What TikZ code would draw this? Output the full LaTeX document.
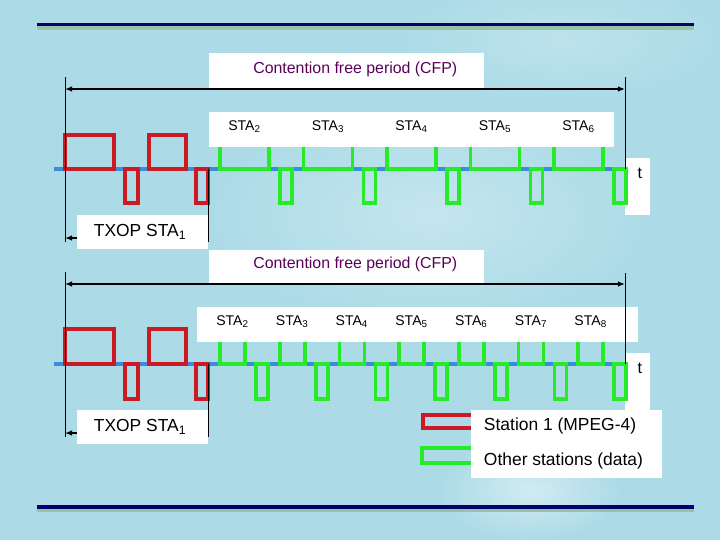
\documentclass[tikz,border=0pt]{standalone}
\usepackage{fontspec}
\setmainfont{Liberation Sans}
\usetikzlibrary{arrows.meta,positioning,calc}
\definecolor{SlideBlue}{RGB}{172,219,231}
\definecolor{BarNavy}{RGB}{0,0,110}
\definecolor{BarGreen}{RGB}{150,196,160}
\definecolor{LineBlue}{RGB}{60,140,220}
\definecolor{StaRed}{RGB}{205,25,35}
\definecolor{StaGreen}{RGB}{40,235,40}
\definecolor{CfpPurple}{RGB}{90,0,90}
\tikzset{
  whitebox/.style={fill=white,inner sep=0pt},
  timeline/.style={LineBlue,line width=2.4pt},
  redsig/.style={draw=StaRed,line width=2.7pt},
  greensig/.style={draw=StaGreen,line width=2.7pt},
  dimline/.style={black,line width=0.7pt},
  dimarrow/.style={black,line width=1.4pt,-{Latex[length=5pt,width=4pt]}},
  cfptext/.style={font=\fontsize{11.3}{13}\selectfont,text=CfpPurple},
  stalabel/.style={font=\fontsize{10}{12}\selectfont},
  timelabel/.style={font=\fontsize{11.5}{13}\selectfont},
  bigtext/.style={font=\fontsize{12.4}{14}\selectfont}
}

\begin{document}
\begin{tikzpicture}[x=0.025cm,y=-0.025cm]
  \fill[SlideBlue] (0,0) rectangle (720,540);
  \useasboundingbox (0,0) rectangle (720,540);
  \shade[inner color=SlideBlue!70!white,outer color=SlideBlue] (430,215) ellipse (220 and 110);
  \shade[inner color=SlideBlue!55!white,outer color=SlideBlue] (530,490) ellipse (90 and 50);
  \shade[inner color=SlideBlue!80!white,outer color=SlideBlue] (560,40) ellipse (160 and 60);
  \fill[BarNavy] (37,22.5) rectangle (694,26);
  \fill[BarGreen] (37,26) rectangle (694,30);
  \fill[BarNavy] (37,505) rectangle (694,508.5);
  \fill[BarGreen] (37,508.5) rectangle (694,512);

  % upper diagram
  \node[whitebox,minimum width=6.875cm,minimum height=0.875cm] (cfpA) at (346.5,70.5) {};
  \node[cfptext] (cfpAtext) at ([xshift=0.22cm,yshift=0.03cm]cfpA.center) {Contention free period (CFP)};
  \node[whitebox,minimum width=10.125cm,minimum height=0.875cm] (staboxA) at (411.5,129.5) {};
  \node[whitebox,minimum width=0.625cm,minimum height=1.425cm] (tboxA) at (637.5,186.5) {};
  \node[timelabel] (tA) at ([xshift=0.06cm,yshift=-0.38cm]tboxA.north) {t};
  \node[whitebox,minimum width=3.275cm,minimum height=0.85cm] (txopA) at (142.5,232) {};
  \node[bigtext] (txopAtext) at ([xshift=-0.06cm]txopA.center) {TXOP STA\textsubscript{1}};

  \draw[timeline] (54,169) -- (625,169);
  \draw[redsig] (65,135) rectangle (114,169);
  \draw[redsig] (149,135) rectangle (186,169);
  \draw[redsig] (125,169) rectangle (138,203);
  \draw[redsig] (196,169) rectangle (208,203);
  \foreach \i in {0,...,4}{
    \pgfmathsetmacro\xa{220+83.5*\i}
    \pgfmathsetmacro\xb{280+83.5*\i}
    \pgfmathtruncatemacro\n{\i+2}
    \draw[greensig] (\xa,147) -- (\xa,169) -- ({\xa+49},169) -- ({\xa+49},147);
    \draw[greensig] (\xb,169) rectangle ({\xb+12},203);
    \node[stalabel] (staA\n) at ({\xa+24.5},127) {STA\textsubscript{\n}};
  }

  \coordinate (cfpAL) at (65,89);
  \coordinate (cfpAR) at (625,89);
  \coordinate (topAL) at (65,77);
  \coordinate (botAL) at (65,242);
  \coordinate (topAR) at (625,77);
  \coordinate (botAR) at (625,169);
  \coordinate (topAT) at (208,169);
  \coordinate (botAT) at (208,242);
  \coordinate (txAL) at (65,238);
  \draw[dimline] (topAL) -- (botAL);
  \draw[dimline] (topAR) -- (botAR);
  \draw[dimline] (topAT) -- (botAT);
  \draw[dimarrow,{Latex[length=5pt,width=4pt]}-{Latex[length=5pt,width=4pt]}] (cfpAL) -- (cfpAR);
  \draw[dimarrow] (txopA.west |- txAL) -- (txAL);

  % lower diagram
  \node[whitebox,minimum width=6.875cm,minimum height=0.825cm] (cfpB) at (346.5,266.5) {};
  \node[cfptext] (cfpBtext) at ([xshift=0.22cm,yshift=0.06cm]cfpB.center) {Contention free period (CFP)};
  \node[whitebox,minimum width=11.025cm,minimum height=0.875cm] (staboxB) at (417.5,324.5) {};
  \node[whitebox,minimum width=0.625cm,minimum height=1.425cm] (tboxB) at (637.5,381.5) {};
  \node[timelabel] (tB) at ([xshift=0.06cm,yshift=-0.38cm]tboxB.north) {t};
  \node[whitebox,minimum width=3.275cm,minimum height=0.85cm] (txopB) at (142.5,427) {};
  \node[bigtext] (txopBtext) at ([xshift=-0.06cm]txopB.center) {TXOP STA\textsubscript{1}};

  \draw[timeline] (54,364) -- (625,364);
  \draw[redsig] (65,329) rectangle (114,364);
  \draw[redsig] (149,329) rectangle (186,364);
  \draw[redsig] (125,364) rectangle (138,399);
  \draw[redsig] (196,364) rectangle (208,399);
  \foreach \i in {0,...,6}{
    \pgfmathsetmacro\xa{220+59.7*\i}
    \pgfmathsetmacro\xb{256+59.7*\i}
    \pgfmathtruncatemacro\n{\i+2}
    \draw[greensig] (\xa,342) -- (\xa,364) -- ({\xa+25},364) -- ({\xa+25},342);
    \draw[greensig] (\xb,364) rectangle ({\xb+12},399);
    \node[stalabel] (staB\n) at ({\xa+12.5},322) {STA\textsubscript{\n}};
  }

  \coordinate (cfpBL) at (65,284);
  \coordinate (cfpBR) at (625,284);
  \coordinate (topBL) at (65,272);
  \coordinate (botBL) at (65,437);
  \coordinate (topBR) at (625,273);
  \coordinate (botBR) at (625,364);
  \coordinate (topBT) at (208,364);
  \coordinate (botBT) at (208,437);
  \coordinate (txBL) at (65,433);
  \draw[dimline] (topBL) -- (botBL);
  \draw[dimline] (topBR) -- (botBR);
  \draw[dimline] (topBT) -- (botBT);
  \draw[dimarrow,{Latex[length=5pt,width=4pt]}-{Latex[length=5pt,width=4pt]}] (cfpBL) -- (cfpBR);
  \draw[dimarrow] (txopB.west |- txBL) -- (txBL);

  % legend
  \draw[redsig] (423,415) rectangle (480,428);
  \draw[greensig] (422,448) rectangle (480,463);
  \node[whitebox,minimum width=4.775cm,minimum height=1.7cm] (legend) at (566.5,444) {};
  \node[bigtext,anchor=west] (legred) at (479,426) {Station 1 (MPEG-4)};
  \node[bigtext,anchor=west] (leggreen) at (479,461) {Other stations (data)};
\end{tikzpicture}
\end{document}
